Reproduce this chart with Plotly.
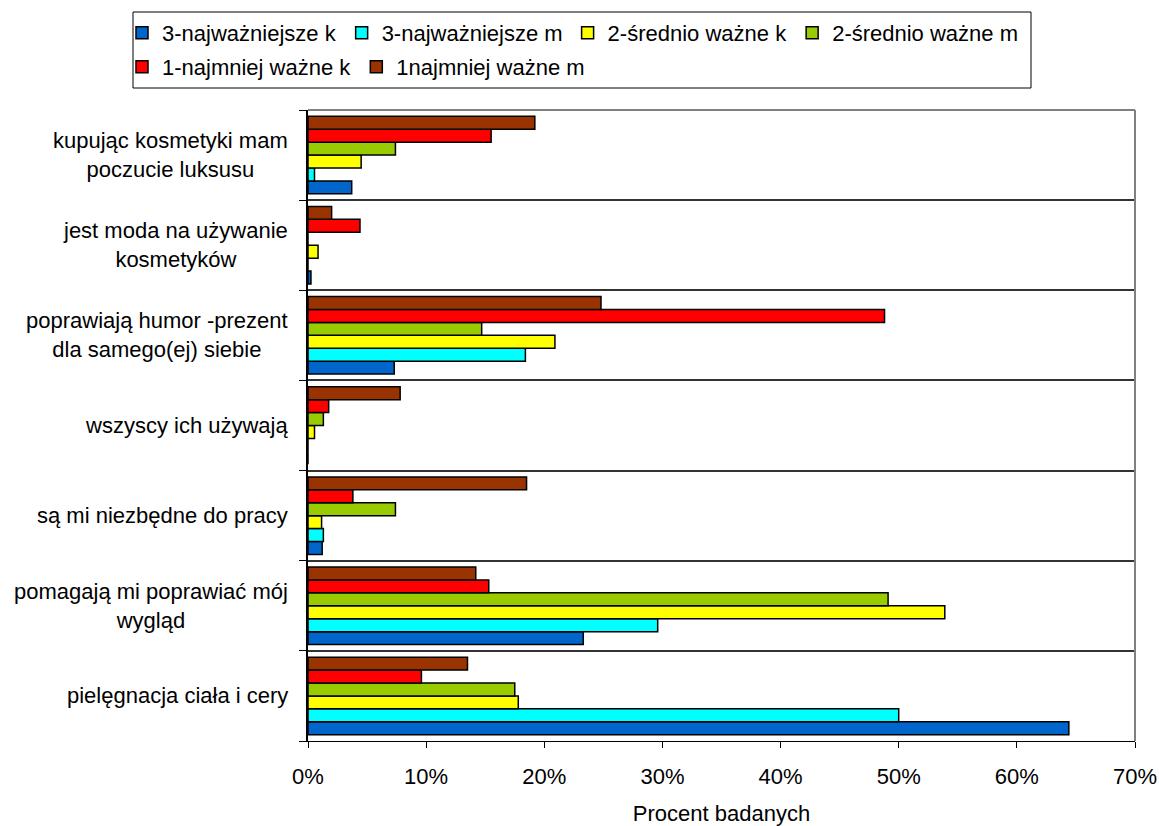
import plotly.graph_objects as go

categories = [
    "pielęgnacja ciała i cery",
    "pomagają mi poprawiać mój<br>wygląd",
    "są mi niezbędne do pracy",
    "wszyscy ich używają",
    "poprawiają humor -prezent<br>dla samego(ej) siebie",
    "jest moda na używanie<br>kosmetyków",
    "kupując kosmetyki mam<br>poczucie luksusu",
]

series_names = [
    "3-najważniejsze k",
    "3-najważniejsze m",
    "2-średnio ważne k",
    "2-średnio ważne m",
    "1-najmniej ważne k",
    "1najmniej ważne m",
]

najwazniejsze_k = [64.4, 23.3, 1.2, 0.0, 7.3, 0.25, 3.7]
najwazniejsze_m = [50.0, 29.6, 1.3, 0.0, 18.4, 0.0, 0.55]
srednio_k = [17.8, 53.9, 1.15, 0.55, 20.9, 0.85, 4.5]
srednio_m = [17.5, 49.1, 7.4, 1.3, 14.7, 0.0, 7.4]
najmniej_k = [9.6, 15.3, 3.8, 1.75, 48.8, 4.4, 15.5]
najmniej_m = [13.5, 14.2, 18.5, 7.8, 24.8, 2.0, 19.2]

colors = ["#0066CC", "#00FFFF", "#FFFF00", "#99CC00", "#FF0000", "#993300"]
legend_rows = ["legend", "legend", "legend", "legend", "legend2", "legend2"]

x_ticks = [0, 10, 20, 30, 40, 50, 60, 70]

all_values = [najwazniejsze_k, najwazniejsze_m, srednio_k, srednio_m, najmniej_k, najmniej_m]

FONT = "Liberation Sans, Arial, sans-serif"
FS = 22

W, H = 1159, 826
ML, MR, MT, MB = 308, 24, 110, 85
PW = W - ML - MR
PH = H - MT - MB


def px_to_paper_x(px):
    return (px - ML) / PW


def px_to_paper_y(py):
    return (H - MB - py) / PH


fig = go.Figure()
for name, vals, col, lg in zip(series_names, all_values, colors, legend_rows):
    fig.add_trace(go.Bar(
        y=categories, x=vals, name=name, orientation="h", legend=lg,
        marker=dict(color=col, line=dict(color="black", width=1.5)),
    ))

for cat in categories:
    fig.add_annotation(
        x=0, xref="paper", y=cat, yref="y", xanchor="right", xshift=-18,
        text=cat, showarrow=False, align="center",
        font=dict(family=FONT, size=FS, color="black"),
    )

# gray border of plot area (top and right)
fig.add_shape(type="line", xref="paper", yref="paper", x0=0, x1=1, y0=1, y1=1,
              line=dict(color="#808080", width=2))
fig.add_shape(type="line", xref="paper", yref="paper", x0=1, x1=1, y0=0, y1=1,
              line=dict(color="#808080", width=2))
# legend frame
fig.add_shape(type="rect", xref="paper", yref="paper",
              x0=px_to_paper_x(133), x1=px_to_paper_x(1031),
              y0=px_to_paper_y(88), y1=px_to_paper_y(12),
              line=dict(color="black", width=1), fillcolor="rgba(0,0,0,0)")

legend_common = dict(
    orientation="h", xref="paper", yref="paper",
    xanchor="left", yanchor="middle",
    borderwidth=0, bgcolor="rgba(0,0,0,0)",
    font=dict(family=FONT, size=22, color="black"),
    traceorder="normal", itemwidth=30,
)

fig.update_layout(
    width=W, height=H,
    margin=dict(l=ML, r=MR, t=MT, b=MB),
    paper_bgcolor="white", plot_bgcolor="white",
    barmode="group", bargap=0.14, bargroupgap=0,
    font=dict(family=FONT, size=FS, color="black"),
    showlegend=True,
    legend=dict(x=px_to_paper_x(122), y=px_to_paper_y(33), **legend_common),
    legend2=dict(x=px_to_paper_x(122), y=px_to_paper_y(67), **legend_common),
    xaxis=dict(
        range=[0, 70], tickvals=x_ticks, ticktext=[f"{v}%" for v in x_ticks],
        showgrid=False, zeroline=False, automargin=False,
        showline=True, linecolor="black", linewidth=1,
        ticks="outside", ticklen=6, tickcolor="black",
        ticklabelstandoff=10,
        tickfont=dict(family=FONT, size=FS),
        title=dict(text="Procent badanych", font=dict(family=FONT, size=FS), standoff=20),
    ),
    yaxis=dict(
        type="category", categoryorder="array", categoryarray=categories,
        range=[-0.5, 6.5], automargin=False,
        showticklabels=False, tickson="boundaries",
        showgrid=True, gridcolor="#333333", gridwidth=1.5,
        showline=True, linecolor="black", linewidth=1.5,
        ticks="outside", ticklen=7, tickcolor="black",
        zeroline=False,
    ),
)

fig.write_html("out.html")
